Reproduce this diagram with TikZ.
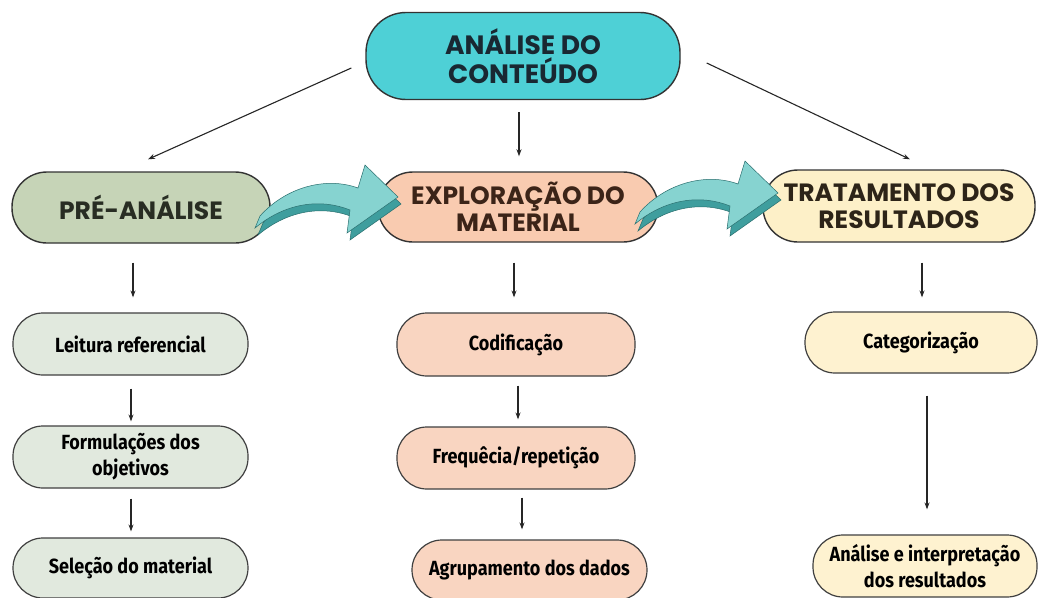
\documentclass[tikz,border=0pt]{standalone}
\usepackage{fontspec}
\setmainfont{Poppins}
\newfontfamily\headfont{Poppins}
\newfontfamily\subfont{Fira Sans}[FakeStretch=0.88]
\usetikzlibrary{arrows.meta}
\definecolor{cyanbox}{RGB}{78,208,214}
\definecolor{greenbox}{RGB}{198,212,183}
\definecolor{peachbox}{RGB}{249,203,176}
\definecolor{yellowbox}{RGB}{253,240,200}
\definecolor{greensub}{RGB}{225,233,222}
\definecolor{peachsub}{RGB}{249,213,193}
\definecolor{yellowsub}{RGB}{254,242,208}
\definecolor{teallight}{RGB}{134,211,208}
\definecolor{tealdark}{RGB}{63,158,158}
\definecolor{tealedge}{RGB}{40,110,110}
\begin{document}
\begin{tikzpicture}[x=1pt,y=-1pt,
  mainbox/.style={draw=black!80, line width=1.4pt, align=center, inner sep=0pt,
    font=\headfont\bfseries\fontsize{25}{27}\selectfont},
  subbox/.style={draw=black!75, line width=1.2pt, rounded corners=30pt, align=center, inner sep=0pt,
    font=\subfont\bfseries\fontsize{20.5}{26}\selectfont},
  arr/.style={-{Stealth[length=7pt,width=5pt]}, line width=1.1pt, black!85},
  fatdark/.style={fill=tealdark, draw=tealedge, line width=0.5pt},
  fatlight/.style={fill=teallight, draw=tealedge, line width=0.5pt}
]
\path[fill=white] (0,0) rectangle (1038,597);
\useasboundingbox (0,0) rectangle (1038,597);

% main nodes
\node[mainbox, fill=cyanbox, text={rgb,255:red,25;green,40;blue,50}, minimum width=314pt, minimum height=87pt, rounded corners=40pt, font=\headfont\bfseries\fontsize{26.5}{29}\selectfont] (top) at (523,56) {ANÁLISE DO\\CONTEÚDO};
\node[mainbox, fill=greenbox, text={rgb,255:red,40;green,45;blue,35}, minimum width=258pt, minimum height=71pt, rounded corners=35pt] (pre) at (141,207.5) {PRÉ-ANÁLISE};
\node[mainbox, fill=peachbox, text={rgb,255:red,60;green,36;blue,24}, minimum width=280pt, minimum height=70pt, rounded corners=35pt] (exp) at (518,207) {EXPLORAÇÃO DO\\MATERIAL};
\node[mainbox, fill=yellowbox, text={rgb,255:red,45;green,36;blue,24}, minimum width=272pt, minimum height=72pt, rounded corners=35pt] (trat) at (899,206) {TRATAMENTO DOS\\RESULTADOS};

% sub nodes
\node[subbox, fill=greensub, minimum width=235pt, minimum height=62pt] (leit) at (130.5,344) {Leitura referencial};
\node[subbox, fill=greensub, minimum width=235pt, minimum height=62pt] (form) at (130.5,457) {Formulações dos\\objetivos};
\node[subbox, fill=greensub, minimum width=235pt, minimum height=60pt] (sel) at (130.5,568) {Seleção do material};
\node[subbox, fill=peachsub, minimum width=238pt, minimum height=63pt] (cod) at (516,344.5) {Codificação};
\node[subbox, fill=peachsub, minimum width=238pt, minimum height=62pt] (freq) at (516,458) {Frequêcia/repetição};
\node[subbox, fill=peachsub, minimum width=235pt, minimum height=60pt] (agr) at (529.5,570) {Agrupamento dos dados};
\node[subbox, fill=yellowsub, minimum width=232pt, minimum height=61pt] (cat) at (921,342.5) {Categorização};
\node[subbox, fill=yellowsub, minimum width=224pt, minimum height=62pt] (ana) at (925,566) {Análise e interpretação\\dos resultados};

% fat curved arrows
\foreach \sx/\sy in {255/228, 635/224}{
  \begin{scope}[shift={(\sx,\sy)}]
    \path[fatdark] (3,7) .. controls (33,-18) and (68,-23) .. (98,-11) -- (95,12) -- (146,-24) -- (113,-56) -- (106,-33) .. controls (73,-45) and (33,-33) .. (8,-5) -- cycle;
    \path[fatlight] (0,0) .. controls (30,-25) and (65,-30) .. (95,-18) -- (92,5) -- (143,-31) -- (110,-63) -- (103,-40) .. controls (70,-52) and (30,-40) .. (5,-12) -- cycle;
  \end{scope}
}

% connectors
\draw[arr] ([shift={(-14,12)}]top.west) -- ([shift={(7,-12)}]pre.north);
\draw[arr] ([shift={(-4,12)}]top.south) -- ([shift={(1,-15)}]exp.north);
\draw[arr] ([shift={(26,7)}]top.east) -- ([shift={(11,-10)}]trat.north);
\draw[arr] ([shift={(-8,19)}]pre.south) -- ([shift={(2.5,-15)}]leit.north);
\draw[arr] ([shift={(0.5,13)}]leit.south) -- ([shift={(0.5,-4)}]form.north);
\draw[arr] ([shift={(0.5,10)}]form.south) -- ([shift={(0.5,-6)}]sel.north);
\draw[arr] ([shift={(-4,20)}]exp.south) -- ([shift={(-2,-15)}]cod.north);
\draw[arr] ([shift={(2,9)}]cod.south) -- ([shift={(2,-7)}]freq.north);
\draw[arr] ([shift={(6,8)}]freq.south) -- ([shift={(-7.5,-10)}]agr.north);
\draw[arr] ([shift={(23,20)}]trat.south) -- ([shift={(1,-14)}]cat.north);
\draw[arr] ([shift={(6,22)}]cat.south) -- ([shift={(2,-25)}]ana.north);
\end{tikzpicture}
\end{document}
